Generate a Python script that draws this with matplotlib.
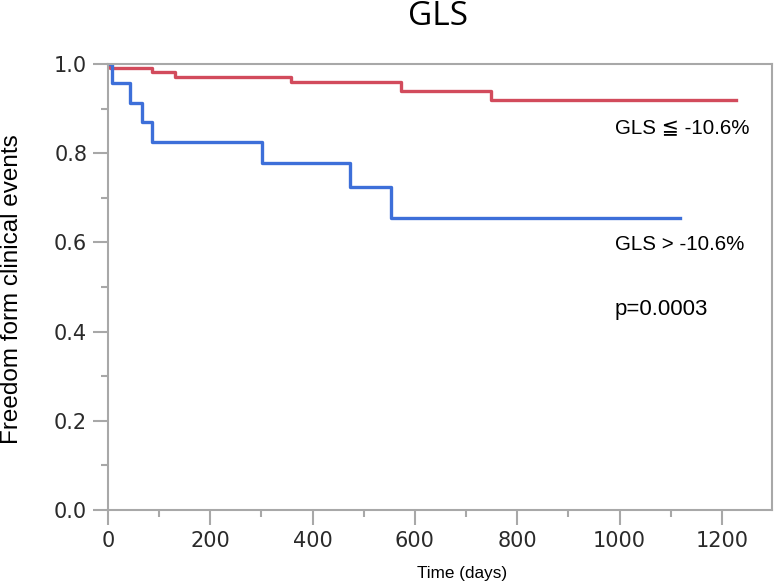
import matplotlib.pyplot as plt
from matplotlib.ticker import MultipleLocator

plt.rcParams['font.family'] = ['Liberation Sans', 'DejaVu Sans']

# Kaplan-Meier steps
low_days = [0, 3, 87, 131, 357, 572, 748, 1227]
low_surv = [1.0, 0.99, 0.981, 0.971, 0.96, 0.94, 0.919, 0.919]
high_days = [0, 7, 43, 66, 87, 302, 474, 554, 1118]
high_surv = [1.0, 0.957, 0.913, 0.870, 0.826, 0.777, 0.724, 0.655, 0.655]

red = '#d24b5c'
blue = '#3d6fd9'
gray = '#a8a8a8'

fig = plt.figure(figsize=(7.74, 5.85), dpi=100)
ax = fig.add_axes([0.1395, 0.1282, 0.8579, 0.7624])

ax.step(low_days, low_surv, where='post', color=red, lw=2.4)
ax.step(high_days, high_surv, where='post', color=blue, lw=2.4)

ax.set_xlim(0, 1298)
ax.set_ylim(0, 1.0)
ax.xaxis.set_major_locator(MultipleLocator(200))
ax.xaxis.set_minor_locator(MultipleLocator(100))
ax.yaxis.set_major_locator(MultipleLocator(0.2))
ax.yaxis.set_minor_locator(MultipleLocator(0.1))
ax.yaxis.set_major_formatter(plt.FuncFormatter(lambda v, p: f'{v:.1f}'))

for s in ax.spines.values():
    s.set_color(gray)
    s.set_linewidth(1.5)
ax.tick_params(which='major', length=11, width=1.5, color=gray,
               labelsize=15, labelcolor='#2a2a2a', pad=4)
ax.tick_params(which='minor', length=5, width=1.5, color=gray)
for lab in ax.get_xticklabels() + ax.get_yticklabels():
    lab.set_family(['DejaVu Sans'])

ax.text(991, 0.857, 'GLS ≦ -10.6%', fontsize=14.8, va='center',
        family=['Liberation Sans', 'DejaVu Sans'])
ax.text(991, 0.595, 'GLS > -10.6%', fontsize=14.8, va='center')
ax.text(991, 0.45, 'p=0.0003', fontsize=16, va='center')

fig.text(0.566, 0.972, 'GLS', fontsize=24, ha='center', va='center',
         family=['Open Sans'])
fig.text(0.597, 0.02, 'Time (days)', fontsize=12.3, ha='center', va='center')
fig.text(0.016, 0.505, 'Freedom form clinical events', fontsize=17.5,
         rotation=90, ha='center', va='center')

fig.savefig('out.png', dpi=100)
